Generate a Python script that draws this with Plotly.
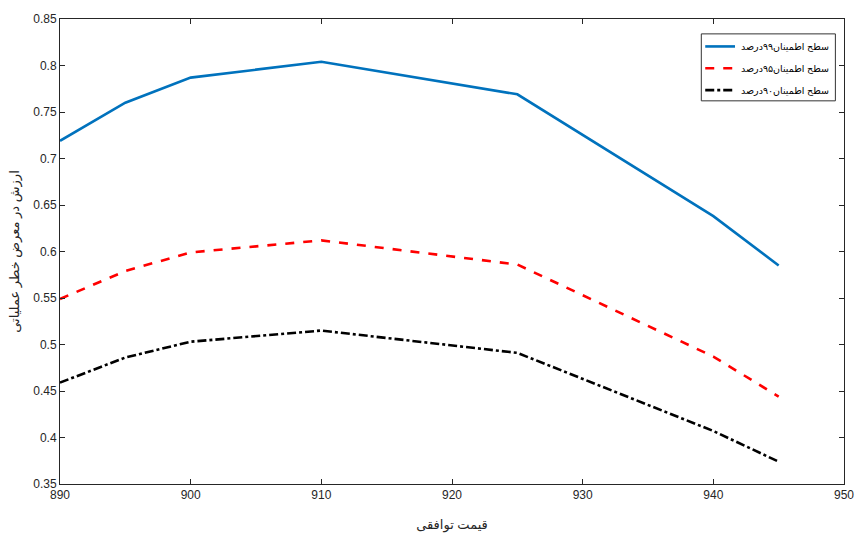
import plotly.graph_objects as go

strike = [890, 895, 900, 910, 925, 940, 945]
var99 = [0.719, 0.760, 0.787, 0.804, 0.769, 0.638, 0.585]
var95 = [0.549, 0.579, 0.599, 0.612, 0.586, 0.487, 0.444]
var90 = [0.459, 0.486, 0.503, 0.515, 0.491, 0.407, 0.374]
names = ["سطح اطمینان۹۹درصد", "سطح اطمینان۹۵درصد", "سطح اطمینان۹۰درصد"]
x_title = "قیمت توافقی"
y_title = "ارزش در معرض خطر عملیاتی"
colors = ["#0072BD", "#FF0000", "#000000"]
dashes = ["solid", "dash", "dashdot"]
series = [var99, var95, var90]

fig = go.Figure()
for s, n, c, d in zip(series, names, colors, dashes):
    fig.add_trace(go.Scatter(x=strike, y=s, mode="lines", name=n,
                             line=dict(color=c, width=2.6, dash=d), showlegend=False))

# manual legend: line sample on the left, label on the right
fig.add_shape(type="rect", xref="x domain", yref="y domain", x0=0.818, x1=0.989, y0=0.824, y1=0.968,
              line=dict(color="#333333", width=1), fillcolor="white")
ys = [0.941, 0.894, 0.847]
for yy, n, c, d in zip(ys, names, colors, dashes):
    fig.add_shape(type="line", xref="x domain", yref="y domain", x0=0.823, x1=0.861, y0=yy, y1=yy,
                  line=dict(color=c, width=2.6, dash=d))
    fig.add_annotation(xref="x domain", yref="y domain", x=0.866, y=yy, text=n, showarrow=False,
                       xanchor="left", yanchor="middle", font=dict(size=9.5, color="#000000"))

axis_common = dict(showline=True, mirror="ticks", linecolor="#262626", linewidth=1,
                   ticks="inside", ticklen=5, tickcolor="#262626", showgrid=False, zeroline=False,
                   tickfont=dict(size=12, color="#262626", family="Liberation Sans, Arial, sans-serif"))
fig.update_xaxes(range=[890, 950], dtick=10, tick0=890,
                 title=dict(text=x_title, font=dict(size=13, color="#262626"), standoff=18),
                 **axis_common)
fig.update_yaxes(range=[0.35, 0.85], dtick=0.05, tick0=0.35,
                 title=dict(text=y_title, font=dict(size=13, color="#262626"), standoff=10),
                 **axis_common)
fig.update_layout(width=866, height=542, margin=dict(l=60, r=15, t=15, b=56),
                  plot_bgcolor="white", paper_bgcolor="white",
                  font=dict(family="Liberation Sans, DejaVu Sans, Arial, sans-serif"))
fig.write_html("out.html")
